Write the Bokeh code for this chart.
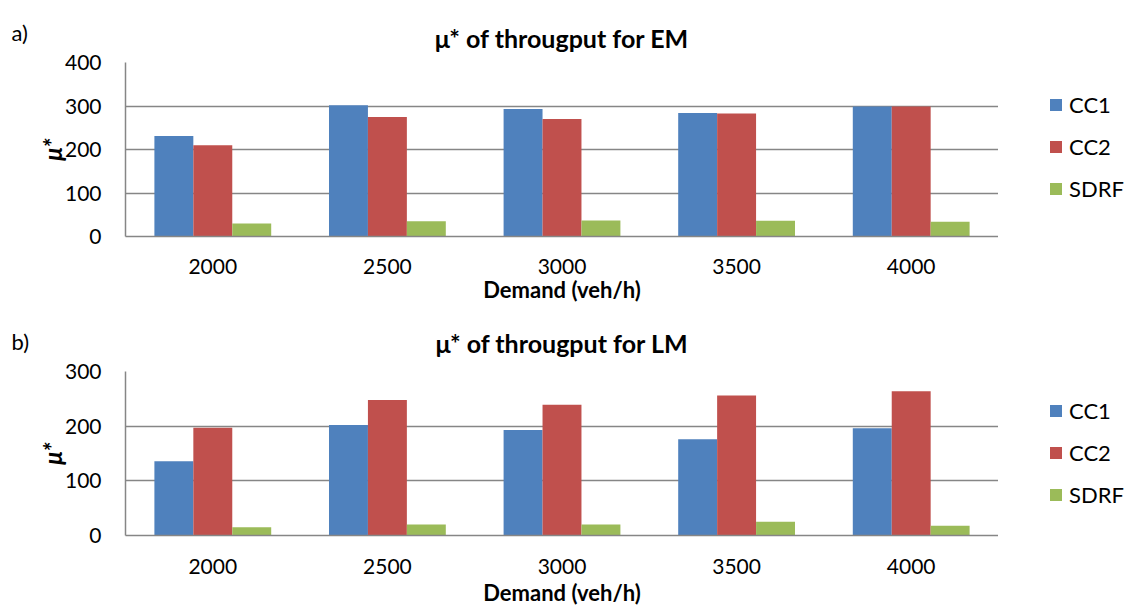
from bokeh.plotting import figure
from bokeh.models import FactorRange, Range1d, Legend, LegendItem, FixedTicker, ColumnDataSource
from bokeh.transform import dodge
from bokeh.layouts import column, row
from bokeh.embed import file_html
from bokeh.resources import INLINE

demand = ["2000", "2500", "3000", "3500", "4000"]
series = ["CC1", "CC2", "SDRF"]
colors = ["#4F81BD", "#C0504D", "#9BBB59"]

em_cc1 = [231, 302, 293, 284, 299]
em_cc2 = [210, 275, 270, 283, 299]
em_sdrf = [30, 35, 37, 36, 34]

lm_cc1 = [136, 202, 193, 176, 196]
lm_cc2 = [197, 248, 239, 256, 264]
lm_sdrf = [15, 20, 20, 25, 18]

em_ticks = [0, 100, 200, 300, 400]
lm_ticks = [0, 100, 200, 300]

FONT = "Lato"
GRID = "#868686"
BAR_W = 0.223


def blank_fig(width, height, x_range, y_range):
    f = figure(width=width, height=height, min_border=0,
               x_range=x_range, y_range=y_range,
               x_axis_type=None, y_axis_type=None,
               output_backend="svg", toolbar_location=None,
               background_fill_color="white", border_fill_color="white")
    f.outline_line_color = None
    f.xgrid.visible = False
    f.ygrid.visible = False
    return f


def add_bars(fig, src, width):
    rs = []
    for i, (s, c) in enumerate(zip(series, colors)):
        rs.append(fig.vbar(x=dodge("demand", (i - 1) * BAR_W, range=fig.x_range), top=s,
                           width=width, source=src, fill_color=c, line_color=None))
    return rs


def make_panel(title, vals, ticks, height, top, bottom, tag, title_standoff,
               leg_y, xlab_standoff, tick_standoff):
    src = ColumnDataSource(dict(demand=demand, CC1=vals[0], CC2=vals[1], SDRF=vals[2]))

    # left gutter: panel tag
    side = blank_fig(34, height, Range1d(0, 1), Range1d(0, 1))
    side.title.text = tag
    side.title.align = "left"
    side.title.offset = 11
    side.title.vertical_align = "top"
    side.title.standoff = 30
    side.title.text_font = FONT
    side.title.text_font_size = "22px"
    side.title.text_font_style = "normal"
    side.title.text_color = "black"

    # main chart
    p = figure(x_range=FactorRange(*demand, range_padding=0),
               y_range=Range1d(ticks[0], ticks[-1]),
               width=964, height=height,
               min_border_left=90, min_border_right=0,
               min_border_top=top, min_border_bottom=bottom,
               output_backend="svg", toolbar_location=None,
               background_fill_color="white", border_fill_color="white")
    p.outline_line_color = None
    add_bars(p, src, BAR_W)

    p.title.text = title
    p.title.align = "center"
    p.title.text_font = FONT
    p.title.text_font_size = "25px"
    p.title.text_font_style = "bold"
    p.title.text_color = "black"
    p.title.standoff = title_standoff

    p.xgrid.grid_line_color = None
    p.ygrid.grid_line_color = GRID
    p.ygrid.grid_line_width = 1.5
    p.ygrid.ticker = FixedTicker(ticks=ticks)

    p.yaxis.ticker = FixedTicker(ticks=ticks)
    p.yaxis.major_label_standoff = 24
    p.yaxis.axis_label = "μ*"
    p.yaxis.axis_label_text_font = FONT
    p.yaxis.axis_label_text_font_style = "bold italic"
    p.yaxis.axis_label_text_font_size = "24px"
    p.yaxis.axis_label_text_color = "black"
    p.yaxis.axis_label_standoff = -5
    p.xaxis.axis_label = "Demand (veh/h)"
    p.xaxis.axis_label_text_font = FONT
    p.xaxis.axis_label_text_font_style = "bold"
    p.xaxis.axis_label_text_font_size = "22px"
    p.xaxis.axis_label_text_color = "black"
    p.xaxis.axis_label_standoff = xlab_standoff
    p.xaxis.major_label_standoff = tick_standoff
    for ax in (p.xaxis, p.yaxis):
        ax.major_tick_line_color = None
        ax.minor_tick_line_color = None
        ax.major_tick_out = 0
        ax.major_tick_in = 0
        ax.minor_tick_out = 0
        ax.minor_tick_in = 0
        ax.axis_line_color = GRID
        ax.axis_line_width = 1.5
        ax.major_label_text_font = FONT
        ax.major_label_text_font_size = "21px"
        ax.major_label_text_color = "black"

    # right gutter: legend (same series, zero-width and off-range so only the legend shows)
    lg = blank_fig(131, height, FactorRange(*demand), Range1d(-2, -1))
    rs = add_bars(lg, src, 0)
    items = [LegendItem(label=s, renderers=[r]) for s, r in zip(series, rs)]
    leg = Legend(items=items, location=(50, leg_y), orientation="vertical",
                 glyph_width=15, glyph_height=15, label_height=25, spacing=15,
                 label_standoff=6, padding=0, margin=0,
                 border_line_color=None, background_fill_alpha=0,
                 label_text_font=FONT, label_text_font_size="22px", label_text_color="black")
    lg.add_layout(leg, "center")

    return row(side, p, lg, spacing=0)


pa = make_panel("μ* of througput for EM", [em_cc1, em_cc2, em_sdrf], em_ticks,
                305, 62, 69, "a)", 20, 34, -1, 22)
pb = make_panel("μ* of througput for LM", [lm_cc1, lm_cc2, lm_sdrf], lm_ticks,
                303, 66, 73, "b)", 28, 27, 2, 23)

layout = column(pa, pb, spacing=0)
open("out.html", "w").write(file_html(layout, INLINE))
